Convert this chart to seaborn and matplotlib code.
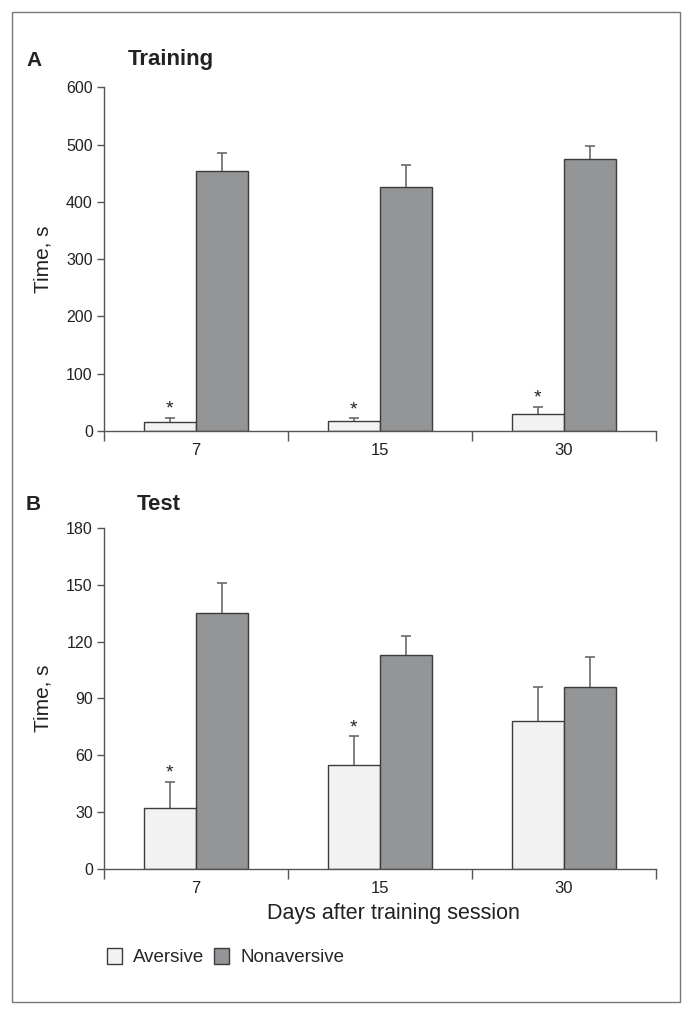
import numpy as np
import pandas as pd
import matplotlib
matplotlib.use("Agg")
import matplotlib.pyplot as plt
from matplotlib.patches import Rectangle
import seaborn as sns

# Values
days = ["7", "15", "30"]
groups = ["Aversive", "Nonaversive"]

train_aversive = [16, 17, 29]
train_aversive_err = [7, 5, 13]
train_nonaversive = [453, 426, 474]
train_nonaversive_err = [32, 38, 24]
train_sig = [True, True, True]

test_aversive = [32, 55, 78]
test_aversive_err = [14, 15, 18]
test_nonaversive = [135, 113, 96]
test_nonaversive_err = [16, 10, 16]
test_sig = [True, True, False]

colors = {"Aversive": "#f2f2f2", "Nonaversive": "#939598"}
edge = "#3c3c3c"
axis_col = "#555555"


def long_table(aversive, nonaversive):
    return pd.DataFrame({
        "day": days * 2,
        "group": ["Aversive"] * 3 + ["Nonaversive"] * 3,
        "time": aversive + nonaversive,
    })


sns.set_theme(style="white")
plt.rcParams["font.family"] = ["Liberation Sans", "DejaVu Sans"]

fig = plt.figure(figsize=(6.9, 10.15), dpi=100)
ax_a = fig.add_axes([0.1507, 0.5754, 0.80, 0.3386])
ax_b = fig.add_axes([0.1507, 0.1441, 0.80, 0.3357])


def draw_panel(ax, df, errs, sig, ymax, step):
    sns.barplot(data=df, x="day", y="time", hue="group", hue_order=groups,
                order=days, palette=colors, width=0.566, errorbar=None,
                edgecolor=edge, linewidth=1.0, legend=False, ax=ax, zorder=2)
    for container, err in zip(ax.containers, errs):
        xs = [b.get_x() + b.get_width() / 2 for b in container]
        hs = [b.get_height() for b in container]
        eb = ax.errorbar(xs, hs, yerr=[np.zeros(len(err)), err], fmt="none",
                         ecolor="#6a6a6a", elinewidth=1.2, capsize=3.5,
                         capthick=1.2, zorder=1)
        # upper error only: hide the cap that sits on the bar top
        eb[1][0].set_visible(False)
    # significance marks over the aversive bars
    for b, e, s in zip(ax.containers[0], errs[0], sig):
        if s:
            ax.annotate("*", xy=(b.get_x() + b.get_width() / 2, b.get_height() + e),
                        xytext=(0, 0), textcoords="offset points",
                        ha="center", va="bottom", fontsize=14, color="#222222")
    ax.set_xlim(-0.5, 2.5)
    ax.set_ylim(0, ymax)
    ax.set_yticks(np.arange(0, ymax + 1, step))
    ax.set_xticks([-0.5, 0.5, 1.5, 2.5], minor=True)
    ax.tick_params(axis="x", which="major", length=0, pad=9, labelsize=12,
                   colors="#222222")
    ax.tick_params(axis="x", which="minor", length=7, width=1, color=axis_col,
                   direction="out", bottom=True)
    ax.tick_params(axis="y", length=5, width=1, color=axis_col, direction="out",
                   left=True, pad=3, labelsize=11.5, labelcolor="#222222")
    for side in ["top", "right"]:
        ax.spines[side].set_visible(False)
    for side in ["left", "bottom"]:
        ax.spines[side].set_color(axis_col)
        ax.spines[side].set_linewidth(1.0)
    ax.set_ylabel("Time, s", fontsize=15, color="#222222", labelpad=10)
    ax.set_xlabel("")


draw_panel(ax_a, long_table(train_aversive, train_nonaversive),
           [train_aversive_err, train_nonaversive_err], train_sig, 600, 100)
draw_panel(ax_b, long_table(test_aversive, test_nonaversive),
           [test_aversive_err, test_nonaversive_err], test_sig, 180, 30)

ax_b.set_xlabel("Days after training session", fontsize=15.5, color="#222222")
ax_b.xaxis.set_label_coords(0.524, -0.1)

# Panel letters and titles
fig.text(26 / 690, 1 - 60 / 1015, "A", fontsize=15, fontweight="bold",
         va="center", color="#222222")
fig.text(128 / 690, 1 - 60 / 1015, "Training", fontsize=16, fontweight="bold",
         va="center", color="#222222")
fig.text(26 / 690, 1 - 505 / 1015, "B", fontsize=15, fontweight="bold",
         va="center", color="#222222")
fig.text(137 / 690, 1 - 505 / 1015, "Test", fontsize=16, fontweight="bold",
         va="center", color="#222222")

# Legend
handles = [Rectangle((0, 0), 1, 1, facecolor=colors[g], edgecolor=edge, lw=1.0)
           for g in groups]
fig.legend(handles, groups, loc="center left",
           bbox_to_anchor=(107 / 690, 1 - 957 / 1015), ncol=2, frameon=False,
           fontsize=13.5, handlelength=0.8, handleheight=1.0, handletextpad=0.6,
           columnspacing=0.5, borderpad=0, borderaxespad=0)

# Outer frame
fig.patches.append(Rectangle((12 / 690, 1 - 1002 / 1015), 668 / 690, 990 / 1015,
                             transform=fig.transFigure, fill=False,
                             edgecolor="#777777", linewidth=1.0))

fig.savefig("out.png", dpi=100)
